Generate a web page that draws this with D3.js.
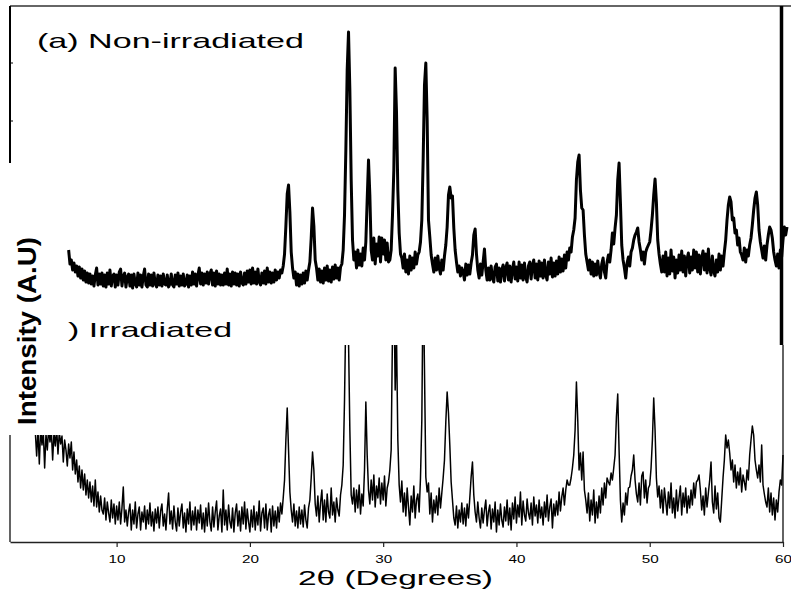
<!DOCTYPE html>
<html>
<head>
<meta charset="utf-8">
<script src="https://cdn.jsdelivr.net/npm/d3@7/dist/d3.min.js"></script>
<style>
  body { margin: 0; background: #fff; }
  text { font-family: "Liberation Sans", Arial, sans-serif; fill: #000; }
</style>
</head>
<body>
<script>
// XRD patterns, 2theta sampled every 0.1 degree
const step = 0.1;
const topStart = 6.4;   // first angle of the non-irradiated scan
const botStart = 3.9;   // first angle of the irradiated scan
const tickValues = [10, 20, 30, 40, 50, 60];

// (a) non-irradiated, one row per degree
const nonIrradiated = [
  40, 26, 30, 20, 27, 18,
  24, 14, 23, 12, 21, 10, 19, 8, 17, 7,
  16, 6, 14, 4, 15, 22, 5, 16, 6, 17,
  4, 15, 3, 17, 6, 20, 4, 14, 16, 3,
  15, 5, 18, 21, 4, 14, 17, 3, 13, 16,
  4, 15, 2, 16, 6, 3, 17, 5, 15, 3,
  14, 21, 5, 3, 16, 5, 15, 4, 17, 6,
  3, 15, 5, 14, 4, 16, 6, 5, 15, 3,
  6, 16, 5, 3, 15, 6, 17, 4, 14, 5,
  16, 4, 6, 15, 3, 14, 5, 18, 6, 16,
  4, 15, 22, 6, 17, 5, 16, 7, 18, 6,
  16, 20, 5, 17, 4, 19, 6, 16, 5, 15,
  5, 17, 6, 21, 5, 16, 4, 18, 6, 17,
  5, 16, 4, 18, 7, 5, 17, 6, 19, 8,
  20, 6, 22, 7, 18, 6, 21, 8, 5, 17,
  7, 19, 6, 22, 8, 18, 7, 17, 8, 20,
  10, 18, 12, 20, 17, 24, 36, 64, 96, 105,
  78, 38, 22, 12, 18, 5, 16, 4, 15, 6,
  17, 7, 19, 10, 20, 28, 52, 82, 64, 30,
  22, 10, 21, 8, 19, 7, 22, 10, 24, 9,
  20, 8, 23, 11, 25, 12, 22, 10, 23, 26,
  40, 75, 140, 220, 258, 200, 110, 50, 30, 38,
  22, 40, 25, 36, 24, 42, 30, 48, 90, 130,
  95, 40, 30, 52, 26, 46, 34, 53, 28, 52,
  36, 50, 30, 47, 28, 30, 40, 75, 120, 222,
  178, 100, 57, 36, 32, 22, 36, 18, 30, 16,
  34, 20, 32, 22, 38, 26, 35, 38, 48, 70,
  130, 205, 227, 170, 70, 53, 35, 26, 18, 32,
  20, 34, 22, 16, 30, 20, 34, 45, 63, 95,
  103, 92, 94, 62, 40, 28, 18, 24, 14, 22,
  18, 10, 26, 15, 25, 16, 27, 35, 55, 61,
  36, 20, 12, 26, 15, 28, 41, 20, 10, 22,
  10, 24, 12, 8, 23, 26, 9, 22, 8, 20,
  25, 9, 22, 27, 10, 24, 8, 21, 28, 11,
  23, 9, 28, 12, 25, 10, 27, 13, 8, 24,
  28, 11, 25, 30, 12, 26, 10, 29, 14, 27,
  12, 30, 15, 10, 28, 16, 32, 13, 27, 14,
  29, 16, 33, 18, 31, 19, 35, 22, 38, 30,
  42, 38, 53, 60, 72, 110, 128, 135, 100, 82,
  80, 55, 36, 28, 20, 30, 16, 28, 14, 26,
  15, 29, 18, 12, 26, 32, 18, 12, 28, 35,
  28, 40, 57, 46, 62, 75, 110, 127, 88, 45,
  30, 22, 12, 27, 33, 24, 38, 42, 50, 55,
  58, 62, 48, 40, 30, 38, 26, 38, 42, 45,
  48, 60, 75, 95, 111, 88, 50, 36, 26, 18,
  34, 18, 38, 14, 32, 16, 40, 19, 33, 12,
  30, 17, 35, 20, 39, 18, 34, 14, 31, 37,
  17, 33, 20, 40, 22, 38, 18, 35, 16, 32,
  39, 20, 36, 17, 41, 22, 15, 34, 19, 14,
  30, 18, 36, 20, 34, 24, 38, 50, 70, 85,
  93, 88, 70, 72, 57, 60, 45, 52, 38, 35,
  30, 42, 28, 40, 34, 45, 52, 65, 80, 92,
  98, 85, 60, 48, 40, 32, 44, 30, 45, 55,
  63, 60, 52, 38, 30, 24, 36, 22, 40, 33,
  50, 63, 55, 63
];

// (b) irradiated
const irradiated = [
  108,
  84, 110, 76, 112, 95, 108, 72, 106, 90, 112,
  98, 110, 80, 107, 94, 112, 86, 108, 96, 104,
  78, 100, 90, 74, 96, 82, 98, 70, 88, 66,
  80, 58, 74, 52, 70, 50, 66, 45, 60, 42,
  58, 38, 54, 34, 60, 33, 48, 28, 44, 30,
  26, 42, 20, 38, 27, 18, 40, 22, 36, 16,
  34, 20, 38, 16, 32, 53, 18, 30, 14, 28,
  36, 10, 30, 16, 38, 12, 26, 33, 10, 28,
  18, 34, 11, 30, 16, 37, 14, 28, 9, 31,
  17, 33, 12, 29, 36, 14, 26, 10, 31, 47,
  16, 29, 11, 34, 18, 9, 32, 14, 28, 36,
  12, 27, 8, 31, 16, 38, 10, 29, 15, 33,
  10, 30, 17, 35, 11, 27, 8, 32, 14, 37,
  18, 9, 33, 13, 28, 39, 10, 24, 31, 8,
  50, 15, 30, 10, 35, 18, 12, 32, 8, 27,
  36, 14, 29, 9, 33, 16, 38, 11, 31, 18,
  8, 30, 13, 34, 10, 28, 15, 39, 9, 27,
  32, 12, 36, 10, 25, 31, 8, 34, 14, 29,
  12, 33, 18, 37, 26, 42, 60, 100, 132, 90,
  48, 30, 18, 36, 14, 29, 12, 33, 16, 30,
  13, 35, 20, 12, 32, 40, 62, 88, 70, 36,
  24, 44, 18, 37, 50, 20, 40, 18, 46, 28,
  22, 52, 25, 38, 18, 42, 30, 24, 45, 55,
  75, 140, 230, 280, 200, 110, 45, 36, 52, 28,
  50, 32, 55, 26, 46, 34, 70, 138, 85, 50,
  36, 60, 40, 65, 33, 54, 42, 62, 36, 57,
  40, 64, 34, 52, 58, 70, 90, 210, 260, 150,
  205, 100, 55, 38, 59, 28, 47, 24, 52, 33,
  15, 44, 28, 54, 22, 40, 46, 28, 62, 120,
  270, 170, 63, 48, 57, 26, 47, 18, 40, 27,
  44, 25, 52, 32, 47, 62, 80, 118, 148, 127,
  95, 58, 40, 22, 15, 34, 12, 30, 18, 37,
  16, 32, 14, 36, 22, 42, 63, 78, 45, 28,
  18, 38, 22, 12, 32, 17, 30, 40, 14, 28,
  35, 11, 31, 18, 38, 8, 30, 15, 36, 20,
  13, 33, 19, 40, 15, 32, 10, 37, 21, 43,
  17, 35, 23, 48, 15, 39, 25, 19, 41, 27,
  21, 37, 15, 43, 24, 35, 17, 40, 22, 33,
  15, 38, 23, 45, 19, 33, 41, 12, 36, 24,
  39, 25, 48, 29, 43, 52, 35, 50, 60, 55,
  55, 62, 72, 85, 110, 158, 120, 70, 87, 60,
  88, 50, 40, 27, 47, 19, 40, 25, 50, 17,
  38, 22, 44, 27, 52, 35, 57, 42, 62, 58,
  55, 67, 60, 72, 85, 123, 146, 90, 40, 18,
  37, 25, 47, 35, 52, 53, 64, 70, 85, 60,
  46, 38, 57, 35, 64, 68, 42, 60, 37, 52,
  55, 72, 100, 142, 110, 62, 43, 54, 32, 50,
  27, 52, 39, 25, 48, 32, 57, 27, 42, 22,
  50, 29, 42, 54, 25, 47, 33, 52, 27, 44,
  32, 50, 35, 57, 42, 58, 60, 65, 50, 30,
  44, 25, 52, 33, 47, 60, 78, 38, 27, 54,
  31, 47, 22, 18, 40, 62, 80, 105, 92, 100,
  87, 70, 80, 58, 75, 52, 68, 55, 72, 48,
  65, 58, 50, 70, 60, 85, 100, 114, 105, 80,
  70, 62, 75, 58, 95, 55, 46, 38, 33, 52,
  28, 47, 25, 42, 20, 40, 28, 48, 60, 55,
  85
];

const width = 791, height = 591;

const svg = d3.select("body").append("svg")
  .attr("width", width)
  .attr("height", height);

svg.append("rect").attr("width", width).attr("height", height).attr("fill", "#fff");

// shared 2theta scale, each panel gets its own intensity scale
const x = d3.scaleLinear().domain([2, 60]).range([10, 783]);
const yTop = d3.scaleLinear().domain([0, 260]).range([290, 30]);
const yBot = d3.scaleLinear().domain([0, 200]).range([540, 340]);

const toPoints = (vals, start) => vals.map((v, i) => [start + i * step, v]);

// clip for the lower scan (cut flat at the top and under the label at left)
const clip = svg.append("clipPath").attr("id", "botClip");
clip.append("rect").attr("x", 0).attr("y", 435).attr("width", 70).attr("height", 110);
clip.append("rect").attr("x", 70).attr("y", 345).attr("width", 721).attr("height", 200);

// frame of the upper panel
svg.append("line").attr("x1", 10).attr("x2", 791).attr("y1", 6).attr("y2", 6)
  .attr("stroke", "#333").attr("stroke-width", 1.3);
svg.append("line").attr("x1", 10).attr("x2", 10).attr("y1", 6).attr("y2", 163)
  .attr("stroke", "#000").attr("stroke-width", 2);
[63, 121].forEach(yy => {
  svg.append("line").attr("x1", 10).attr("x2", 13).attr("y1", yy).attr("y2", yy)
    .attr("stroke", "#000").attr("stroke-width", 1);
});
svg.append("line").attr("x1", 781.5).attr("x2", 781.5).attr("y1", 6).attr("y2", 345)
  .attr("stroke", "#000").attr("stroke-width", 3.5);

// frame of the lower panel
svg.append("line").attr("x1", 10).attr("x2", 10).attr("y1", 435).attr("y2", 542)
  .attr("stroke", "#222").attr("stroke-width", 1.4);
svg.append("line").attr("x1", 783).attr("x2", 783).attr("y1", 345).attr("y2", 542)
  .attr("stroke", "#222").attr("stroke-width", 1.4);

const xAxis = d3.axisBottom(x).tickValues(tickValues).tickSize(5).tickSizeOuter(0);
const gx = svg.append("g").attr("transform", "translate(0,542)").call(xAxis);
gx.select(".domain").attr("stroke", "#222").attr("stroke-width", 1.4);
gx.selectAll(".tick line").attr("stroke", "#222").attr("stroke-width", 1.2);
gx.selectAll(".tick text")
  .attr("y", 21).attr("dy", 0)
  .attr("font-size", 11)
  .attr("font-family", "Liberation Sans, Arial, sans-serif")
  .attr("textLength", 17)
  .attr("lengthAdjust", "spacingAndGlyphs")
  .attr("fill", "#000");

// traces
const lineTop = d3.line().x(d => x(d[0])).y(d => yTop(d[1]));
const lineBot = d3.line().x(d => x(d[0])).y(d => yBot(d[1]));

svg.append("path")
  .datum(toPoints(nonIrradiated, topStart))
  .attr("d", lineTop)
  .attr("fill", "none")
  .attr("stroke", "#000")
  .attr("stroke-width", 3)
  .attr("stroke-linejoin", "round");

svg.append("path")
  .datum(toPoints(irradiated, botStart))
  .attr("clip-path", "url(#botClip)")
  .attr("d", lineBot)
  .attr("fill", "none")
  .attr("stroke", "#000")
  .attr("stroke-width", 1.5)
  .attr("stroke-linejoin", "round");

// labels
svg.append("text").attr("x", 37).attr("y", 48)
  .attr("font-size", 21)
  .attr("textLength", 267).attr("lengthAdjust", "spacingAndGlyphs")
  .text("(a) Non-irradiated");

svg.append("text").attr("x", 68).attr("y", 337)
  .attr("font-size", 21)
  .attr("textLength", 164).attr("lengthAdjust", "spacingAndGlyphs")
  .text(") Irradiated");

svg.append("text").attr("x", 298).attr("y", 585)
  .attr("font-size", 20)
  .attr("textLength", 195).attr("lengthAdjust", "spacingAndGlyphs")
  .text("2θ (Degrees)");

svg.append("text")
  .attr("transform", "translate(36,331) rotate(-90)")
  .attr("text-anchor", "middle")
  .attr("font-size", 26)
  .attr("font-weight", "bold")
  .attr("textLength", 188).attr("lengthAdjust", "spacingAndGlyphs")
  .text("Intensity (A.U)");
</script>
</body>
</html>
